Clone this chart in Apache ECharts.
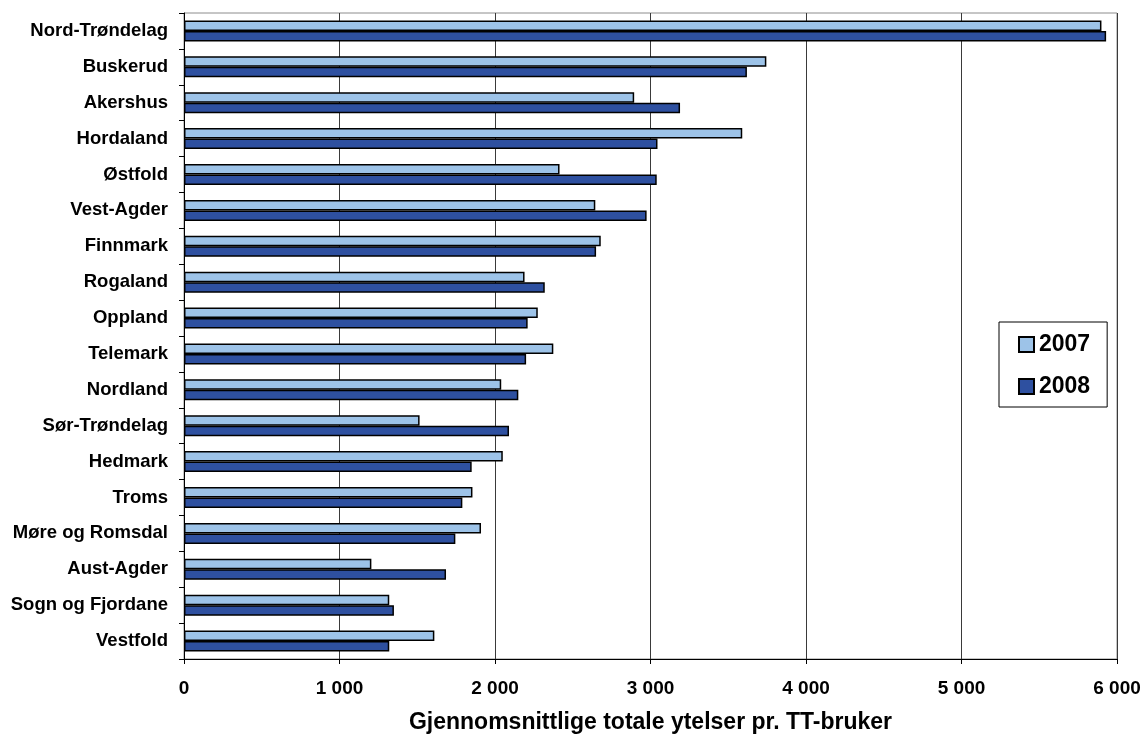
<!DOCTYPE html>
<html>
<head>
<meta charset="utf-8">
<script src="https://cdn.jsdelivr.net/npm/echarts@6/dist/echarts.min.js"></script>
<style>
  html, body { margin: 0; padding: 0; background: #fff; }
  #chart { width: 1144px; height: 742px; }
</style>
</head>
<body>
<div id="chart"></div>
<script>
// Counties, listed top to bottom
const counties = [
  'Nord-Trøndelag', 'Buskerud', 'Akershus', 'Hordaland', 'Østfold',
  'Vest-Agder', 'Finnmark', 'Rogaland', 'Oppland', 'Telemark',
  'Nordland', 'Sør-Trøndelag', 'Hedmark', 'Troms', 'Møre og Romsdal',
  'Aust-Agder', 'Sogn og Fjordane', 'Vestfold'
];

// Average total benefits per TT user (NOK)
const values2007 = [
  5900, 3745, 2895, 3590, 2415,
  2645, 2680, 2190, 2275, 2375,
  2040, 1515, 2050, 1855, 1910,
  1205, 1320, 1610
];
const values2008 = [
  5930, 3620, 3190, 3045, 3040,
  2975, 2650, 2320, 2210, 2200,
  2150, 2090, 1850, 1790, 1745,
  1685, 1350, 1320
];

const xTicks = [0, 1000, 2000, 3000, 4000, 5000, 6000];

const FONT = '"Liberation Sans", Arial, sans-serif';

const chart = echarts.init(document.getElementById('chart'));

// "1000" -> "1 000"
const fmtThousands = v => {
  const s = String(Math.round(v));
  return s.replace(/\B(?=(\d{3})+(?!\d))/g, ' ');
};

chart.setOption({
  backgroundColor: '#ffffff',
  animation: false,
  grid: {
    left: 184, right: 27, top: 13, bottom: 83,
    show: true,
    borderColor: '#8c8c8c',
    borderWidth: 1
  },
  legend: {
    orient: 'vertical',
    left: 999,
    top: 322,
    icon: 'rect',
    itemWidth: 15,
    itemHeight: 15,
    itemGap: 19,
    padding: [11, 17, 9, 19],
    borderColor: '#000',
    borderWidth: 1,
    backgroundColor: '#fff',
    textStyle: { fontFamily: FONT, fontWeight: 'bold', fontSize: 23, color: '#000' },
    data: ['2007', '2008']
  },
  xAxis: {
    type: 'value',
    min: xTicks[0],
    max: xTicks[xTicks.length - 1],
    interval: 1000,
    name: 'Gjennomsnittlige totale ytelser pr. TT-bruker',
    nameLocation: 'middle',
    nameGap: 52,
    nameTextStyle: { fontFamily: FONT, fontWeight: 'bold', fontSize: 23, color: '#000' },
    axisLine: { show: true, lineStyle: { color: '#000', width: 1 } },
    axisTick: { show: true, length: 5, lineStyle: { color: '#000' } },
    axisLabel: {
      margin: 20,
      fontFamily: FONT, fontWeight: 'bold', fontSize: 19, color: '#000',
      formatter: fmtThousands
    },
    splitLine: { show: true, lineStyle: { color: '#3a3a3a', width: 1 } }
  },
  yAxis: {
    type: 'category',
    inverse: true,
    data: counties,
    axisLine: { show: true, lineStyle: { color: '#000', width: 1 } },
    axisTick: { show: true, length: 5, lineStyle: { color: '#000' } },
    axisLabel: {
      margin: 16,
      fontFamily: FONT, fontWeight: 'bold', fontSize: 18.5, color: '#000'
    },
    splitLine: { show: false }
  },
  series: [
    {
      name: '2007',
      type: 'bar',
      data: values2007,
      barWidth: 10.5,
      barGap: '0%',
      itemStyle: { color: '#9dc3e8', borderColor: '#000', borderWidth: 1.5 }
    },
    {
      name: '2008',
      type: 'bar',
      data: values2008,
      barWidth: 10.5,
      barGap: '0%',
      itemStyle: { color: '#2e50a0', borderColor: '#000', borderWidth: 1.5 }
    }
  ]
});
</script>
</body>
</html>
